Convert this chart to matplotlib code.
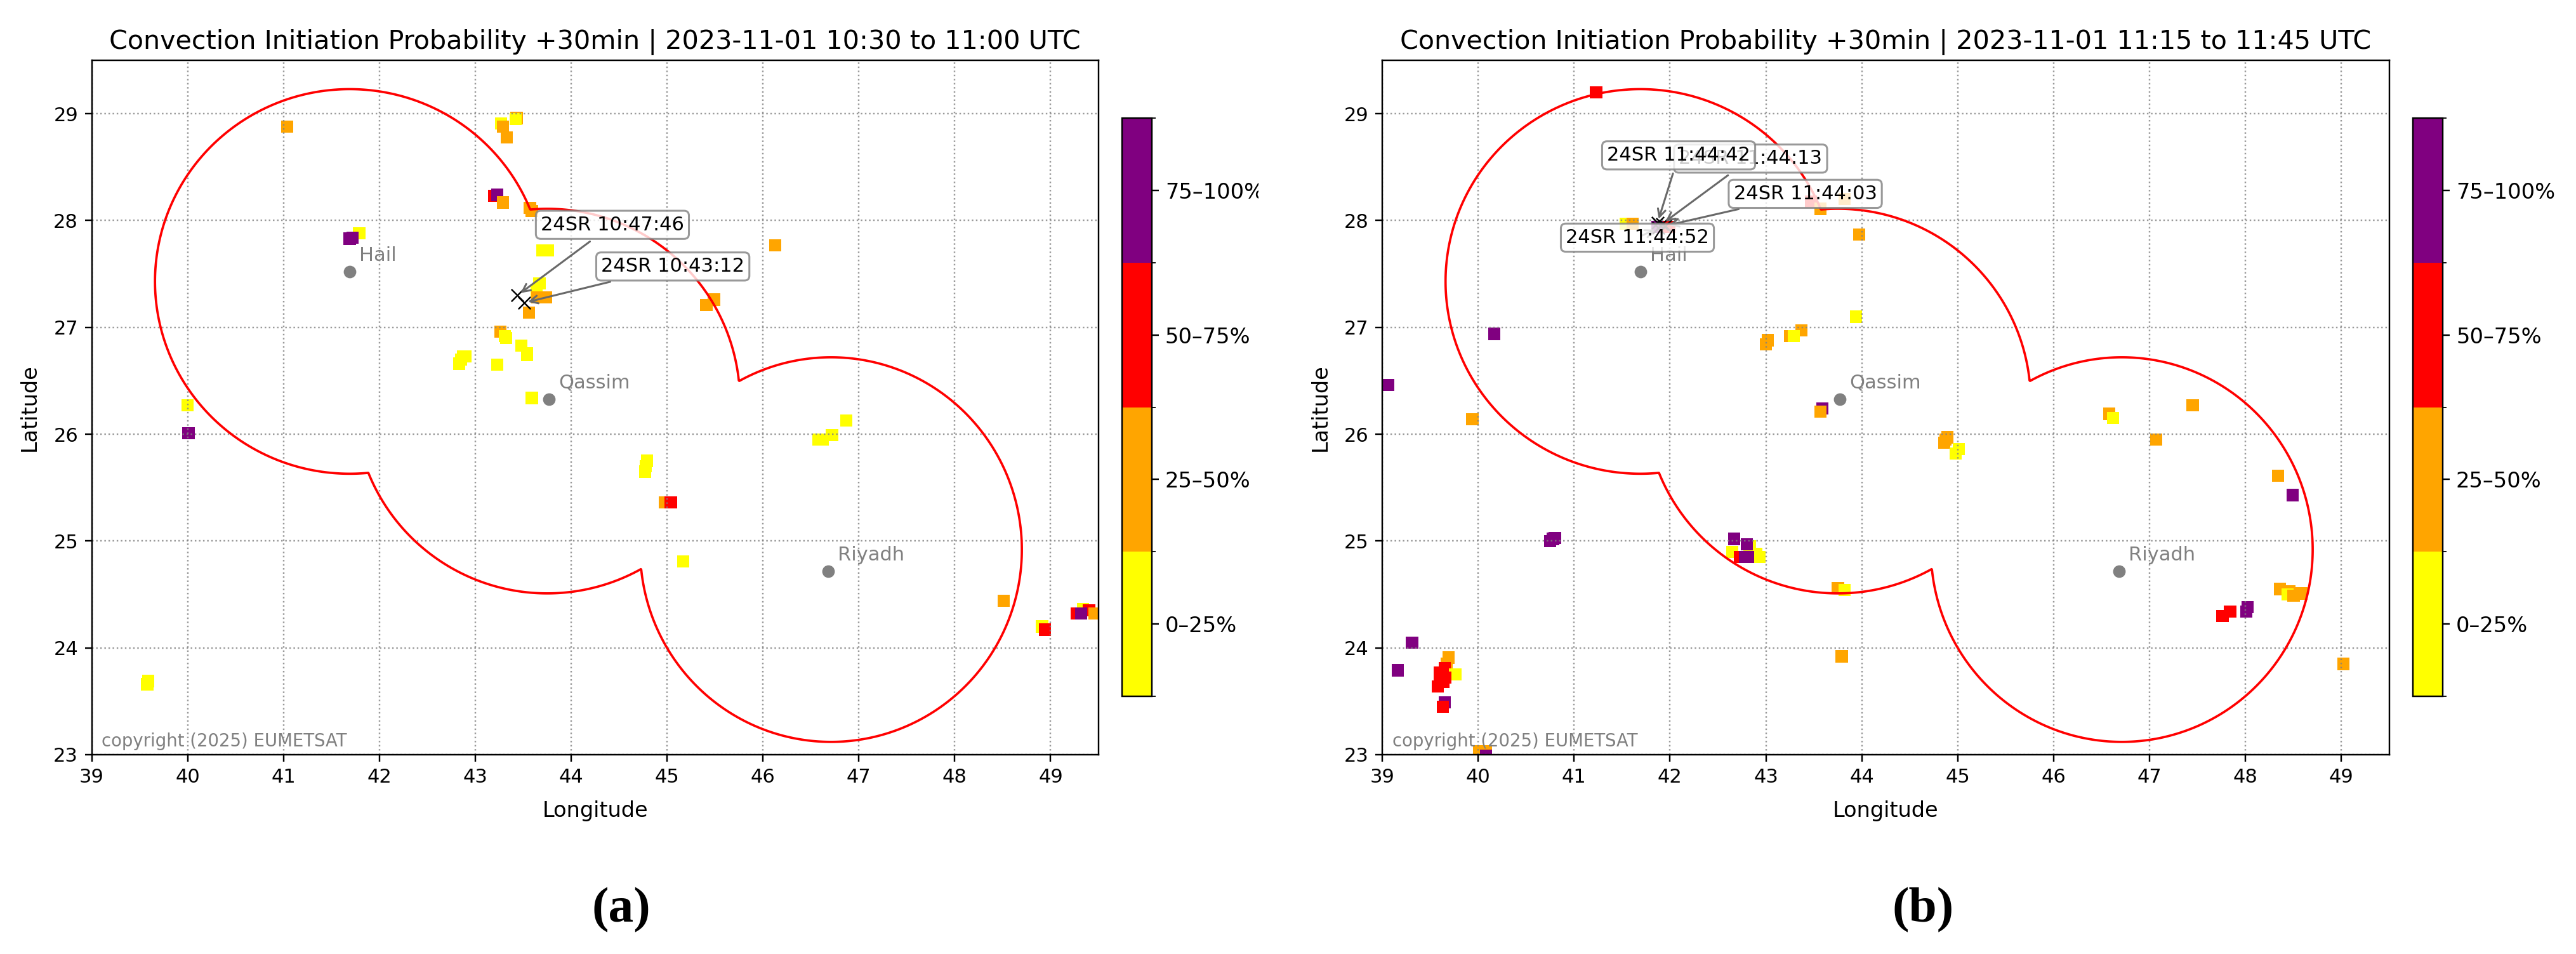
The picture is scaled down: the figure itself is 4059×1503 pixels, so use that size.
import numpy as np
import matplotlib
matplotlib.use("Agg")
import matplotlib.pyplot as plt
from matplotlib.colors import ListedColormap, BoundaryNorm
from matplotlib.ticker import FixedLocator
from matplotlib.transforms import Bbox

W, H = 4059, 1503
DPI = 220

# class colours and labels
class_colors = ['yellow', 'orange', 'red', 'purple']
class_bounds = [0, 25, 50, 75, 100]
class_mids = [12.5, 37.5, 62.5, 87.5]
class_labels = ['0–25%', '25–50%', '50–75%', '75–100%']

# cities (marker position)
city_names = ['Hail', 'Qassim', 'Riyadh']
city_lon = [41.69, 43.77, 46.68]
city_lat = [27.52, 26.33, 24.72]

# range rings, about 200 km round each radar
ring_lon = [41.69, 43.75, 46.71]
ring_lat = [27.43, 26.31, 24.92]
ring_rlon = [2.03, 2.01, 1.99]
ring_rlat = 1.80

# panel a, drawn in this order
a_lon = [41.04, 43.27, 43.43, 43.42, 43.29, 43.33, 43.20, 43.23, 43.29, 43.57, 43.59,
         41.79, 41.69, 41.72, 43.70, 43.76, 43.67, 43.64, 43.65, 43.74, 43.56,
         43.26, 43.31, 43.32, 43.48, 43.54, 43.54, 42.87, 42.83, 42.85, 42.90, 43.23,
         43.59, 40.00, 40.01, 44.79, 44.78, 44.77, 44.98, 45.04, 45.17, 39.58, 39.59,
         45.41, 45.49, 46.13, 46.87, 46.72, 46.62, 46.58, 48.51, 48.91, 48.94,
         49.34, 49.27, 49.40, 49.46, 49.32]
a_lat = [28.88, 28.91, 28.96, 28.95, 28.88, 28.78, 28.23, 28.24, 28.17, 28.12, 28.09,
         27.88, 27.83, 27.84, 27.72, 27.72, 27.41, 27.34, 27.28, 27.28, 27.14,
         26.96, 26.92, 26.90, 26.83, 26.76, 26.74, 26.73, 26.66, 26.70, 26.73, 26.65,
         26.34, 26.27, 26.01, 25.75, 25.70, 25.65, 25.36, 25.36, 24.81, 23.66, 23.69,
         27.21, 27.26, 27.77, 26.13, 25.99, 25.95, 25.95, 24.44, 24.20, 24.17,
         24.36, 24.32, 24.35, 24.32, 24.32]
a_prob = [37, 12, 37, 12, 37, 37, 62, 87, 37, 37, 37,
          12, 87, 87, 12, 12, 12, 12, 37, 37, 37,
          37, 12, 12, 12, 12, 12, 12, 12, 12, 12, 12,
          12, 12, 87, 12, 12, 12, 37, 62, 12, 12, 12,
          37, 37, 37, 12, 12, 12, 12, 37, 12, 62,
          12, 62, 62, 37, 87]

# panel b, drawn in this order
b_lon = [41.23, 41.54, 41.61, 41.87, 41.99, 43.47, 43.57, 43.82, 43.97, 43.94,
         43.37, 43.25, 43.29, 43.02, 43.00, 40.17, 39.06, 39.94, 43.59, 43.57,
         44.89, 44.87, 44.86, 45.01, 44.98, 46.58, 46.62, 47.45, 47.07, 48.34, 48.49,
         48.36, 48.46, 48.44, 48.58, 48.50, 47.84, 47.76, 48.02, 48.01, 49.02,
         40.80, 40.78, 40.75, 42.67, 42.65, 42.83, 42.90, 42.93, 42.73, 42.80, 42.78,
         42.81, 43.75, 43.82, 43.79, 39.31, 39.16, 39.69, 39.67, 39.65, 39.76,
         39.60, 39.66, 39.62, 39.60, 39.64, 39.58, 39.65, 39.63, 40.01, 40.08, 40.08]
b_lat = [29.20, 27.97, 27.97, 27.94, 27.94, 28.18, 28.11, 28.20, 27.87, 27.10,
         26.97, 26.92, 26.92, 26.88, 26.84, 26.94, 26.46, 26.14, 26.24, 26.21,
         25.97, 25.95, 25.92, 25.86, 25.82, 26.19, 26.15, 26.27, 25.95, 25.61, 25.43,
         24.55, 24.53, 24.50, 24.51, 24.49, 24.34, 24.30, 24.38, 24.34, 23.85,
         25.03, 25.02, 25.00, 25.02, 24.90, 24.95, 24.88, 24.85, 24.85, 24.97, 24.85,
         24.85, 24.56, 24.54, 23.92, 24.05, 23.79, 23.91, 23.85, 23.81, 23.75,
         23.77, 23.72, 23.70, 23.74, 23.68, 23.64, 23.49, 23.45, 23.03, 23.03, 22.99]
b_prob = [62, 12, 37, 87, 62, 62, 37, 37, 37, 12,
          37, 37, 12, 37, 37, 87, 87, 37, 87, 37,
          37, 37, 37, 12, 12, 37, 12, 37, 37, 37, 87,
          37, 37, 12, 37, 37, 62, 62, 87, 87, 37,
          87, 87, 87, 87, 12, 12, 12, 12, 62, 87, 87,
          87, 37, 12, 37, 87, 87, 37, 37, 62, 12,
          62, 62, 62, 62, 62, 62, 87, 62, 37, 37, 87]

# satellite fixes and their labels
a_names = ['24SR 10:47:46', '24SR 10:43:12']
a_x_lon = [43.44, 43.51]
a_x_lat = [27.30, 27.23]
a_text_lon = [44.43, 45.06]
a_text_lat = [27.96, 27.57]

b_names = ['24SR 11:44:03', '24SR 11:44:13', '24SR 11:44:42', '24SR 11:44:52']
b_x_lon = [41.95, 41.92, 41.87, 41.88]
b_x_lat = [27.95, 27.97, 27.98, 27.93]
b_text_lon = [43.41, 42.84, 42.09, 41.66]
b_text_lat = [28.25, 28.58, 28.61, 27.84]

plt.rcParams['font.family'] = 'DejaVu Sans'
cmap = ListedColormap(class_colors)
norm = BoundaryNorm(class_bounds, cmap.N)

fig = plt.figure(figsize=(W / DPI, H / DPI), dpi=DPI, facecolor='white')


def pixel_axes(left, top, right, bottom):
    return fig.add_axes([left / W, 1 - bottom / H, (right - left) / W, (bottom - top) / H])


# one field for all rings so the outline is the union
grid_lon, grid_lat = np.meshgrid(np.linspace(37, 51, 2400), np.linspace(21, 31, 1800))
ring_field = np.min([((grid_lon - x) / rx) ** 2 + ((grid_lat - y) / ring_rlat) ** 2
                     for x, y, rx in zip(ring_lon, ring_lat, ring_rlon)], axis=0)


def draw_panel(box, cbar_box, lon, lat, prob, names, x_lon, x_lat, text_lon, text_lat, title):
    ax = pixel_axes(*box)
    sc = ax.scatter(lon, lat, c=prob, cmap=cmap, norm=norm, marker='s', s=40, linewidths=0)
    ax.contour(grid_lon, grid_lat, ring_field, levels=[1], colors='red', linewidths=1.2)
    ax.scatter(x_lon, x_lat, marker='x', s=40, c='black', linewidths=0.8, zorder=3)
    ax.scatter(city_lon, city_lat, c='gray', s=30, zorder=3)
    for name, x, y in zip(city_names, city_lon, city_lat):
        ax.text(x + 0.1, y + 0.1, name, color='gray', fontsize=10)
    for name, x, y, tx, ty in zip(names, x_lon, x_lat, text_lon, text_lat):
        ax.annotate(name, xy=(x, y), xytext=(tx, ty), fontsize=10, ha='center', va='center',
                    arrowprops=dict(arrowstyle='->', color='dimgray', lw=1),
                    bbox=dict(boxstyle='round,pad=0.25', fc='white', ec='gray', alpha=0.8))
    ax.text(0.01, 0.012, 'copyright (2025) EUMETSAT', transform=ax.transAxes, color='gray', fontsize=9)
    ax.set_xlim(39, 49.5)
    ax.set_ylim(23, 29.5)
    ax.set_xticks(range(39, 50))
    ax.set_yticks(range(23, 30))
    ax.grid(True, linestyle=':', color='gray', alpha=0.8)
    ax.set_xlabel('Longitude', fontsize=11, labelpad=7)
    ax.set_ylabel('Latitude', fontsize=11, labelpad=7)
    ax.set_title(title, fontsize=13.5)

    cax = pixel_axes(*cbar_box)
    cb = fig.colorbar(sc, cax=cax, ticks=class_mids)
    cb.set_ticklabels(class_labels, fontsize=11)
    cax.yaxis.set_minor_locator(FixedLocator(class_bounds))
    return cb


cb_a = draw_panel((144.5, 95, 1731, 1189), (1768, 185.6, 1814.5, 1097.4), a_lon, a_lat, a_prob,
                  a_names, a_x_lon, a_x_lat, a_text_lon, a_text_lat,
                  'Convection Initiation Probability +30min | 2023-11-01 10:30 to 11:00 UTC')
# the left picture is cropped through its top colour bar label
for t in cb_a.ax.get_yticklabels():
    t.set_clip_box(Bbox([[0, 0], [1983, H]]))
    t.set_clip_on(True)

draw_panel((2178, 95, 3765, 1189), (3802, 185.6, 3848.6, 1097.4), b_lon, b_lat, b_prob,
           b_names, b_x_lon, b_x_lat, b_text_lon, b_text_lat,
           'Convection Initiation Probability +30min | 2023-11-01 11:15 to 11:45 UTC')

fig.text(979 / W, 1 - 1434 / H, '(a)', family='Liberation Serif', weight='bold', fontsize=26, ha='center', va='center')
fig.text(3030 / W, 1 - 1434 / H, '(b)', family='Liberation Serif', weight='bold', fontsize=26, ha='center', va='center')

fig.savefig('out.png', dpi=DPI)
